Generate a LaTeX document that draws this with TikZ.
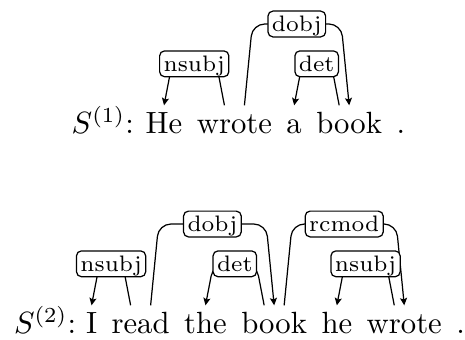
\documentclass[tikz,border=0pt]{standalone}
\usetikzlibrary{calc,positioning,arrows.meta}

% one unit = one pixel of the final drawing, y grows downwards
\tikzset{
  x=0.3257pt, y=-0.3257pt,
  word/.style={inner sep=0pt, outer sep=0pt, font=\fontsize{10pt}{12pt}\selectfont},
  deparc/.style={line width=0.4pt, rounded corners=4pt,
    -{Stealth[length=2.4pt,width=2.3pt,inset=0.5pt]}},
  deplabel/.style={draw, fill=white, rounded corners=1.6pt, line width=0.4pt,
    inner xsep=1.3pt, inner ysep=0.5pt, text height=6.2pt, text depth=1.2pt,
    font=\fontsize{7.3pt}{8.5pt}\selectfont},
}

% #1 head word, #2 dependent word, #3 offset of the foot at the head,
% #4 slant of the legs, #5 rise above the feet, #6 relation, #7 label name
\newcommand\deparcdraw[7]{%
  \draw[deparc] ($(#1.base)+(#3,-28)$)
     -- ($(#1.base)+({#3+(#4)},{-28-(#5)})$)
     -- ($(#2.base)+({-1*(#4)},{-28-(#5)})$)
     -- ($(#2.base)+(0,-28)$);
  \node[deplabel] (#7) at ($($(#1.base)+(#3,{-28-(#5)})$)!0.5!($(#2.base)+(0,{-28-(#5)})$)$) {#6};
}

\begin{document}
\begin{tikzpicture}
\useasboundingbox (0,0) rectangle (465,339);

% first sentence
\node[word, anchor=base west] (SA) at (71.7,133.3) {$S^{(1)}$:};
\node[word, anchor=base west] (HeA) at (145.7,133.3) {He};
\node[word, base right=4.72pt of HeA] (wroteA) {wrote};
\node[word, base right=4.72pt of wroteA] (aA) {a};
\node[word, base right=4.72pt of aA] (bookA) {book};
\node[word, base right=4.72pt of bookA] (dotA) {.};

\deparcdraw{wroteA}{HeA}{-10}{-8}{41.5}{nsubj}{relA1}
\deparcdraw{wroteA}{bookA}{10}{8}{81.3}{dobj}{relA2}
\deparcdraw{bookA}{aA}{-10}{-8}{41.5}{det}{relA3}

% second sentence
\node[word, anchor=base west] (SB) at (14,333.3) {$S^{(2)}$:};
\node[word, anchor=base west] (IB) at (86,333.3) {I};
\node[word, base right=4.72pt of IB] (readB) {read};
\node[word, base right=4.72pt of readB] (theB) {the};
\node[word, base right=4.72pt of theB] (bookB) {book};
\node[word, base right=4.72pt of bookB] (heB) {he};
\node[word, base right=4.72pt of heB] (wroteB) {wrote};
\node[word, base right=4.72pt of wroteB] (dotB) {.};

\deparcdraw{readB}{IB}{-10}{-8}{41.5}{nsubj}{relB1}
\deparcdraw{readB}{bookB}{10}{8}{81.3}{dobj}{relB2}
\deparcdraw{bookB}{theB}{-10}{-8}{41.5}{det}{relB3}
\deparcdraw{bookB}{wroteB}{10}{8}{81.3}{rcmod}{relB4}
\deparcdraw{wroteB}{heB}{-10}{-8}{41.5}{nsubj}{relB5}
\end{tikzpicture}
\end{document}
